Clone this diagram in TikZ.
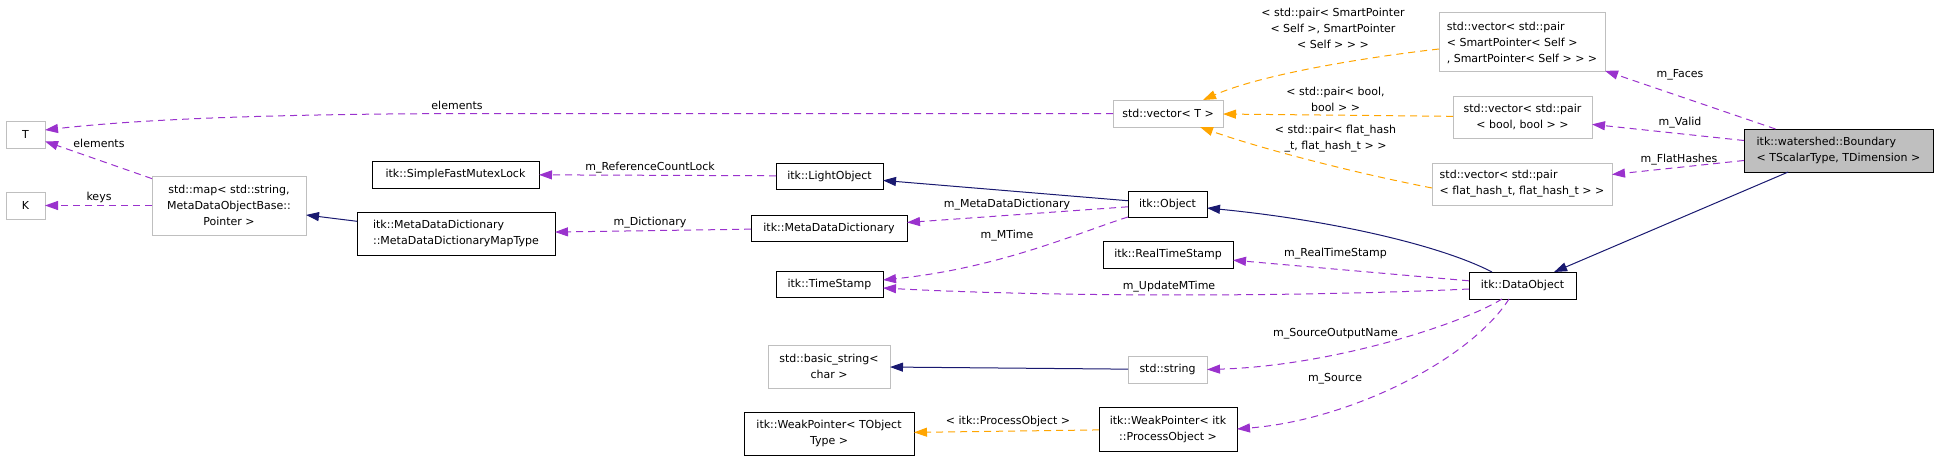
\documentclass[tikz,border=0pt]{standalone}
\usepackage{fontspec}
\setmainfont{DejaVu Sans}
\usetikzlibrary{arrows.meta}
\definecolor{usecol}{HTML}{9A32CD}
\definecolor{tplcol}{HTML}{FFA500}
\definecolor{inhcol}{HTML}{191970}
\definecolor{grayline}{HTML}{BFBFBF}
\begin{document}
\begin{tikzpicture}[x=1pt,y=-1pt,
  font=\fontsize{11}{16}\selectfont,
  box/.style={rectangle, draw, line width=1pt, inner sep=0pt, outer sep=0pt, align=center},
  cls/.style={box, draw=black},
  ext/.style={box, draw=grayline},
  lbl/.style={inner sep=0pt, align=center},
  usage/.style={draw=usecol, line width=1pt, dash pattern=on 7pt off 5pt, -{Triangle[length=13pt,width=9pt]}},
  tmpl/.style={draw=tplcol, line width=1pt, dash pattern=on 7pt off 5pt, -{Triangle[length=13pt,width=9pt]}},
  inh/.style={draw=inhcol, line width=1pt, -{Triangle[length=13pt,width=9pt]}}]
\useasboundingbox (0,0) rectangle (1939,460);

% nodes
\node[ext, minimum width=39pt, minimum height=27pt] (T) at (25.5,134.5) {T};
\node[ext, minimum width=39pt, minimum height=27pt] (K) at (25.5,205.5) {K};
\node[ext, minimum width=154pt, minimum height=59pt] (map) at (229,205.5) {std::map< std::string,\\ MetaDataObjectBase::\\Pointer >};
\node[cls, minimum width=167pt, minimum height=27pt] (sfml) at (455.5,174.5) {itk::SimpleFastMutexLock};
\node[cls, minimum width=198pt, minimum height=43pt, align=left] (maptype) at (456,233.5) {itk::MetaDataDictionary\\::MetaDataDictionaryMapType};
\node[cls, minimum width=107pt, minimum height=26pt] (light) at (829.5,176) {itk::LightObject};
\node[cls, minimum width=156pt, minimum height=26pt] (mdd) at (829,228) {itk::MetaDataDictionary};
\node[cls, minimum width=107pt, minimum height=26pt] (ts) at (829.5,284) {itk::TimeStamp};
\node[ext, minimum width=122pt, minimum height=43pt] (bstr) at (829,366.5) {std::basic\_string<\\char >};
\node[cls, minimum width=170pt, minimum height=43pt] (wpt) at (829,433.5) {itk::WeakPointer< TObject\\Type >};
\node[ext, minimum width=110pt, minimum height=27pt] (vecT) at (1168,113.5) {std::vector< T >};
\node[cls, minimum width=79pt, minimum height=26pt] (obj) at (1167.5,204) {itk::Object};
\node[cls, minimum width=130pt, minimum height=27pt] (rts) at (1168,254.5) {itk::RealTimeStamp};
\node[ext, minimum width=79pt, minimum height=27pt] (str) at (1167.5,369.5) {std::string};
\node[cls, minimum width=138pt, minimum height=44pt] (wppo) at (1168,429) {itk::WeakPointer< itk\\::ProcessObject >};
\node[ext, minimum width=166pt, minimum height=59pt, align=left] (faces) at (1522,42.5) {std::vector< std::pair\\< SmartPointer< Self >\\, SmartPointer< Self > > >};
\node[ext, minimum width=139pt, minimum height=42pt] (valid) at (1522.5,117) {std::vector< std::pair\\< bool, bool > >};
\node[ext, minimum width=180pt, minimum height=42pt, align=left] (flat) at (1522,184) {std::vector< std::pair\\< flat\_hash\_t, flat\_hash\_t > >};
\node[cls, minimum width=107pt, minimum height=27pt] (dobj) at (1522.5,285.5) {itk::DataObject};
\node[cls, fill=grayline, minimum width=189pt, minimum height=43pt, align=left] (bnd) at (1838.5,150.5) {itk::watershed::Boundary\\< TScalarType, TDimension >};

% edges
\draw[usage] (vecT.west) -- ++(-620,0) .. controls (300,113.5) and (150,118) .. ([yshift=4.5pt]T.east);
\node[lbl] (l1) at (457,105) {elements};
\draw[usage] (map) -- (T);
\node[lbl] (l2) at (99,143) {elements};
\draw[usage] (map) -- (K);
\node[lbl] (l3) at (99,197) {keys};
\draw[inh] (maptype) -- (map);
\draw[usage] (light) -- (sfml);
\node[lbl] (l4) at (650,168) {m\_ReferenceCountLock};
\draw[usage] (mdd) -- (maptype);
\node[lbl] (l5) at (650,223) {m\_Dictionary};
\draw[inh] (obj) -- (light);
\draw[usage] (obj) -- (mdd);
\node[lbl] (l6) at (1007,205) {m\_MetaDataDictionary};
\draw[usage] (obj.south west) .. controls (1080,232) and (1000,268) .. ([yshift=4pt]ts.east);
\node[lbl] (l7) at (1007,236) {m\_MTime};
\draw[inh] ([xshift=23pt]dobj.north west) .. controls (1440,245) and (1330,220) .. ([yshift=-4pt]obj.east);
\draw[usage] (dobj) -- (rts);
\node[lbl] (l8) at (1335.5,254) {m\_RealTimeStamp};
\draw[usage] ([yshift=-3.5pt]dobj.west) .. controls (1300,297) and (1050,297) .. ([yshift=-4pt]ts.east);
\node[lbl] (l9) at (1169,287) {m\_UpdateMTime};
\draw[usage] ([xshift=33pt]dobj.south west) .. controls (1460,325) and (1330,366) .. (str.east);
\node[lbl] (l10) at (1335.5,334) {m\_SourceOutputName};
\draw[usage] ([xshift=40pt]dobj.south west) .. controls (1470,360) and (1350,420) .. (wppo.east);
\node[lbl] (l11) at (1335,379) {m\_Source};
\draw[inh] (str) -- (bstr);
\draw[tmpl] (wppo) -- (wpt);
\node[lbl] (l12) at (1008,421) {< itk::ProcessObject >};
\draw[inh] (bnd) -- (dobj);
\draw[usage] (bnd) -- (faces);
\node[lbl] (l13) at (1680,75) {m\_Faces};
\draw[usage] (bnd) -- (valid);
\node[lbl] (l14) at (1680,123) {m\_Valid};
\draw[usage] (bnd) -- (flat);
\node[lbl] (l15) at (1679,160) {m\_FlatHashes};
\draw[tmpl] ([yshift=-6.5pt]faces.west) .. controls (1360,58) and (1260,75) .. ([xshift=-20pt]vecT.north east);
\node[lbl] (l16) at (1333,28.5) {< std::pair< SmartPointer\\< Self >, SmartPointer\\< Self > > >};
\draw[tmpl] (valid) -- (vecT);
\node[lbl] (l17) at (1335.5,99) {< std::pair< bool,\\bool > >};
\draw[tmpl] ([yshift=-4pt]flat.west) .. controls (1340,170) and (1250,145) .. ([xshift=-23pt]vecT.south east);
\node[lbl] (l18) at (1335.5,139) {< std::pair< flat\_hash\\\_t, flat\_hash\_t > >};
\end{tikzpicture}
\end{document}
